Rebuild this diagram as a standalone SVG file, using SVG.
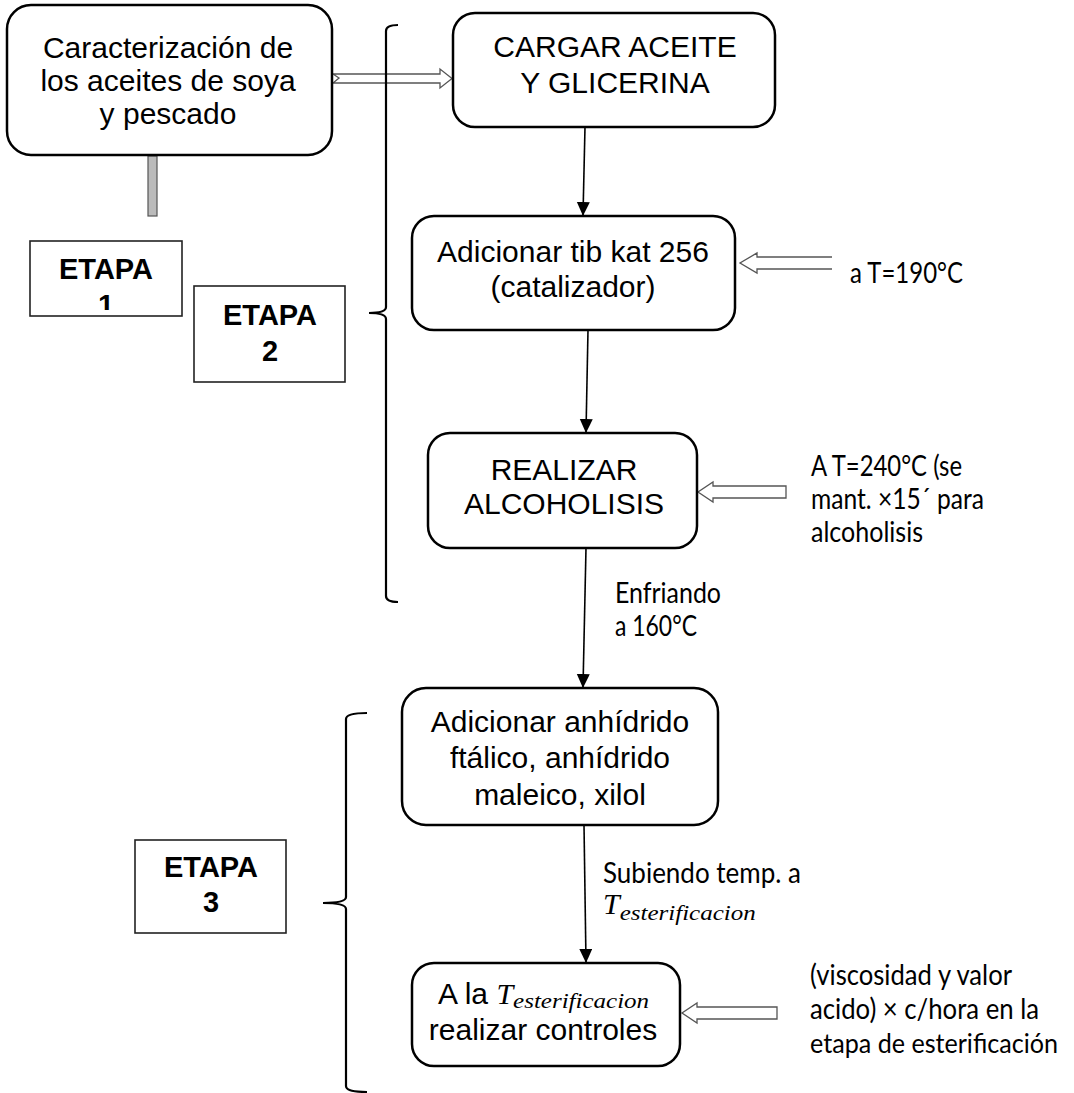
<svg xmlns="http://www.w3.org/2000/svg" width="1074" height="1093" viewBox="0 0 1074 1093">
<style>
.box{fill:#fff;stroke:#000;stroke-width:2.5}
.etapa{fill:#fff;stroke:#222;stroke-width:1.6}
.bt{font-family:"Liberation Sans",Arial,sans-serif;font-size:30px;fill:#000;text-anchor:middle}
.et{font-family:"Liberation Sans",Arial,sans-serif;font-size:29px;font-weight:bold;fill:#000;text-anchor:middle}
.st{font-family:Lato,"Open Sans",sans-serif;font-size:28px;fill:#000}
.m{font-family:"Liberation Serif","DejaVu Serif",serif;font-style:italic;fill:#000}
.ln{fill:none;stroke:#000;stroke-width:1.6}
.br{fill:none;stroke:#000;stroke-width:2.2}
.ha{fill:#fff;stroke:#555;stroke-width:1.3}
</style>
<defs>
<marker id="ah" markerWidth="14" markerHeight="14" refX="13" refY="6.5" orient="auto" markerUnits="userSpaceOnUse">
<path d="M0,0 L14,6.5 L0,13 Z" fill="#000"/>
</marker>
<clipPath id="c1"><rect x="30" y="241" width="152" height="69"/></clipPath>
</defs>

<g id="connectors">
<line class="ln" x1="585" y1="127" x2="583" y2="215" marker-end="url(#ah)"/>
<line class="ln" x1="588" y1="330" x2="586" y2="432" marker-end="url(#ah)"/>
<line class="ln" x1="586" y1="548" x2="583" y2="687" marker-end="url(#ah)"/>
<line class="ln" x1="584" y1="825" x2="586" y2="962" marker-end="url(#ah)"/>
<rect x="148" y="156" width="9" height="60" fill="#bbb" stroke="#555" stroke-width="1.2"/>
<path class="ha" d="M333,74 L339,78 L333,83 L440,83 L440,88 L452,78.5 L440,69 L440,74 Z"/>
<path class="ha" d="M832,257 L757,257 L757,253 L740,263 L757,273 L757,269 L832,269"/>
<path class="ha" d="M786,486 L713,486 L713,482 L698,492 L713,502 L713,498 L786,498 Z"/>
<path class="ha" d="M777,1007 L697,1007 L697,1003 L682,1013 L697,1023 L697,1019 L777,1019 Z"/>
<path class="br" d="M398,25 Q386,25 386,31 L386,307 Q386,313 369,313 Q386,313 386,319 L386,596 Q386,602 398,602"/>
<path class="br" d="M367,713 Q346,713 346,719 L346,897 Q346,903 323,903 Q346,903 346,909 L346,1086 Q346,1092 367,1092"/>
</g>

<g id="n1">
<rect class="box" x="7" y="5" width="325" height="150" rx="24"/>
<text class="bt" x="168" y="58">Caracterización de</text>
<text class="bt" x="168" y="91">los aceites de soya</text>
<text class="bt" x="168" y="124">y pescado</text>
</g>

<g id="n2">
<rect class="box" x="453" y="13" width="322" height="114" rx="22"/>
<text class="bt" x="615" y="57">CARGAR ACEITE</text>
<text class="bt" x="615" y="93">Y GLICERINA</text>
</g>

<g id="n3">
<rect class="box" x="412" y="216" width="323" height="114" rx="22"/>
<text class="bt" x="573" y="262">Adicionar tib kat 256</text>
<text class="bt" x="573" y="297">(catalizador)</text>
</g>

<g id="n4">
<rect class="box" x="428" y="433" width="269" height="115" rx="22"/>
<text class="bt" x="564" y="480">REALIZAR</text>
<text class="bt" x="564" y="514">ALCOHOLISIS</text>
</g>

<g id="n5">
<rect class="box" x="402" y="688" width="316" height="137" rx="24"/>
<text class="bt" x="560" y="732">Adicionar anhídrido</text>
<text class="bt" x="560" y="768">ftálico, anhídrido</text>
<text class="bt" x="560" y="805">maleico, xilol</text>
</g>

<g id="n6">
<rect class="box" x="412" y="963" width="268" height="103" rx="22"/>
<text x="438" y="1004"><tspan style="font-family:'Liberation Sans',Arial,sans-serif;font-size:30px">A la </tspan><tspan class="m" font-size="30">T</tspan><tspan class="m" font-size="22" dy="4" textLength="136" lengthAdjust="spacingAndGlyphs">esterificacion</tspan></text>
<text class="bt" x="543" y="1040">realizar controles</text>
</g>

<g id="etapa1">
<rect class="etapa" x="30" y="241" width="152" height="75"/>
<text class="et" x="106" y="279">ETAPA</text>
<text class="et" x="106" y="315" clip-path="url(#c1)">1</text>
</g>

<g id="etapa2">
<rect class="etapa" x="194" y="286" width="151" height="96"/>
<text class="et" x="270" y="325">ETAPA</text>
<text class="et" x="270" y="361">2</text>
</g>

<g id="etapa3">
<rect class="etapa" x="135" y="840" width="151" height="93"/>
<text class="et" x="211" y="877">ETAPA</text>
<text class="et" x="211" y="912">3</text>
</g>

<g id="labels">
<text class="st" x="850" y="283" textLength="113" lengthAdjust="spacingAndGlyphs">a T=190°C</text>
<text class="st" x="811" y="476" textLength="151" lengthAdjust="spacingAndGlyphs">A T=240°C (se</text>
<text class="st" x="811" y="509" textLength="173" lengthAdjust="spacingAndGlyphs">mant. ×15´ para</text>
<text class="st" x="811" y="542" textLength="112" lengthAdjust="spacingAndGlyphs">alcoholisis</text>
<text class="st" x="615" y="603" textLength="106" lengthAdjust="spacingAndGlyphs">Enfriando</text>
<text class="st" x="615" y="636" textLength="82" lengthAdjust="spacingAndGlyphs">a 160°C</text>
<text class="st" x="603" y="883" textLength="198" lengthAdjust="spacingAndGlyphs">Subiendo temp. a</text>
<text x="603" y="914"><tspan class="m" font-size="30">T</tspan><tspan class="m" font-size="22" dy="6" textLength="136" lengthAdjust="spacingAndGlyphs">esterificacion</tspan></text>
<text class="st" x="810" y="985" textLength="202" lengthAdjust="spacingAndGlyphs">(viscosidad y valor</text>
<text class="st" x="810" y="1019" textLength="229" lengthAdjust="spacingAndGlyphs">acido) × c/hora en la</text>
<text class="st" x="810" y="1053" font-size="26" style="font-size:26px" textLength="248" lengthAdjust="spacingAndGlyphs">etapa de esterificación</text>
</g>
</svg>
